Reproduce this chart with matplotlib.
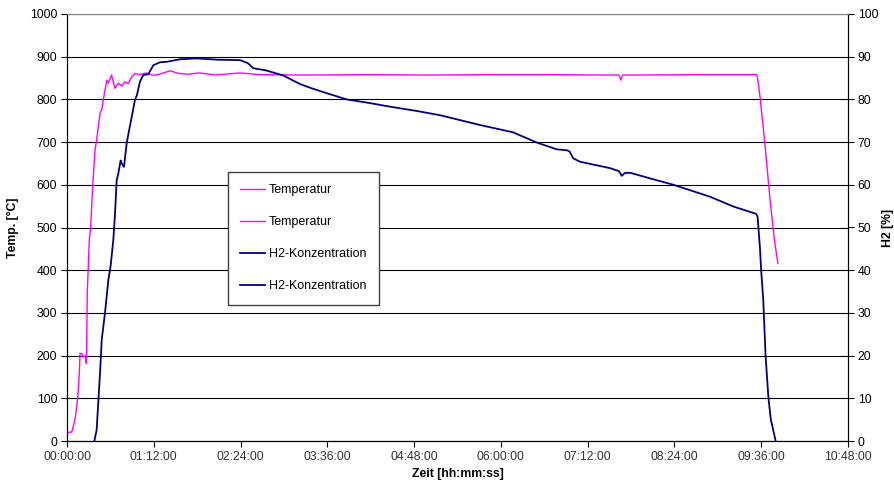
import matplotlib
matplotlib.use("Agg")
import matplotlib.pyplot as plt
from matplotlib.ticker import FixedLocator, FuncFormatter

plt.rcParams['font.family'] = ['Liberation Sans', 'DejaVu Sans']

# time in minutes
temp_t = [0, 3.9, 6.6, 8.9, 10.2, 10.8, 12.2, 13.5, 15.5, 16.0, 16.3, 16.8, 18.5, 19.6,
          21.3, 23.2, 24.6, 27.5, 28.8, 30.1, 33, 34.3, 37, 39.8, 42.6, 45.4, 48, 50.9,
          53.7, 56.4, 60, 66, 70.5, 74.4, 80, 85.5, 92.4, 100, 110, 123, 143.5, 160, 193,
          250, 300, 350, 400, 450, 458, 459.5, 461, 470, 520, 572, 573, 575, 579, 583.5,
          587, 589.8]
temp_v = [20, 21, 49, 100, 159, 205, 205, 197, 200, 182, 213, 346, 471, 500,
          596, 681, 705, 770, 775, 799, 845, 838, 857, 826, 838, 831, 841, 837,
          853, 861, 858, 862, 857, 857, 862, 867, 861, 859, 862, 857, 862, 858, 857,
          858, 857, 858, 858, 857, 857, 845, 857, 857, 858, 858, 850, 806, 697, 560,
          470, 416]

h2_t = [22.7, 24.6, 27.4, 28.8, 31.5, 34.3, 36.2, 38.4, 39.8, 41.2, 42.6, 44.5, 45.4,
        47.3, 49.5, 51, 53.7, 56.4, 58, 60.6, 63.3, 67.5, 71.6, 77.2, 82.7, 93.8, 107.6,
        125, 143.5, 150, 154.6, 165, 179.5, 193.3, 203, 215, 232, 250, 268, 290, 309.5,
        342.7, 370, 389.8, 406.4, 414.7, 417, 420, 425.7, 450.6, 458, 460.3, 463, 467.5,
        483.8, 503.2, 533.6, 553, 571.8, 573, 575, 576, 577.7, 579.6, 582, 584, 588]
h2_v = [0, 2.6, 15.9, 23.7, 29.9, 37.7, 41, 47, 53, 61, 62.7, 65.7, 65,
        64.2, 69.7, 72, 75.9, 79.9, 81, 84.2, 85.7, 85.9, 88, 88.7, 88.8, 89.4, 89.6,
        89.3, 89.2, 88.5, 87.3, 86.8, 85.6, 83.6, 82.6, 81.5, 80, 79.2, 78.3, 77.3, 76.3,
        74, 72.3, 69.9, 68.3, 68.1, 67.8, 66.2, 65.4, 63.9, 63.2, 62.1, 62.8, 62.8,
        61.5, 60, 57.2, 54.9, 53.2, 52.5, 45, 39.8, 33, 20, 10, 5, 0]

x_ticks = [0, 72, 144, 216, 288, 360, 432, 504, 576, 648]
temp_ticks = [0, 100, 200, 300, 400, 500, 600, 700, 800, 900, 1000]
h2_ticks = [0, 10, 20, 30, 40, 50, 60, 70, 80, 90, 100]

fig = plt.figure(figsize=(8.94, 4.88), dpi=100)
ax = fig.add_axes([67/894, 47/488, 781/894, 427/488])
ax2 = ax.twinx()

l1, = ax.plot(temp_t, temp_v, color='#FF00FF', lw=1.0, zorder=3)
l2, = ax2.plot(h2_t, h2_v, color='#000080', lw=1.3, zorder=3)

ax.set_xlim(0, 648)
ax.set_ylim(0, 1000)
ax2.set_ylim(0, 100)

ax.xaxis.set_major_locator(FixedLocator(x_ticks))
ax.xaxis.set_major_formatter(FuncFormatter(lambda v, p: "%02d:%02d:00" % (int(v)//60, int(v) % 60)))
ax.yaxis.set_major_locator(FixedLocator(temp_ticks))
ax2.yaxis.set_major_locator(FixedLocator(h2_ticks))

ax.grid(axis='y', color='black', lw=0.8)
ax.set_axisbelow(True)
for a in (ax, ax2):
    a.tick_params(direction='out', length=4, width=0.8, labelsize=8.8, colors='black', pad=3)
    a.spines['top'].set_color('#888888')
    a.spines['left'].set_color('black')
    a.spines['right'].set_color('black')
    a.spines['bottom'].set_color('black')
    for s in a.spines.values():
        s.set_linewidth(0.8)
ax.tick_params(axis='x', labelcolor='#333333')

ax.set_xlabel('Zeit [hh:mm:ss]', fontsize=8.8, fontweight='bold', labelpad=4)
ax.set_ylabel('Temp. [°C]', fontsize=8.8, fontweight='bold', labelpad=8)
ax2.set_ylabel('H2 [%]', fontsize=8.8, fontweight='bold', labelpad=3)

leg = ax2.legend([l1, l1, l2, l2], ['Temperatur', 'Temperatur', 'H2-Konzentration', 'H2-Konzentration'],
                 loc='upper left', bbox_to_anchor=(0.206, 0.63), fontsize=9,
                 frameon=True, fancybox=False, edgecolor='#404040', framealpha=1,
                 labelspacing=1.6, handlelength=2.0, handletextpad=0.25, borderpad=1.0,
                 borderaxespad=0)
leg.get_frame().set_linewidth(1.0)

fig.savefig('out.png', dpi=100)
